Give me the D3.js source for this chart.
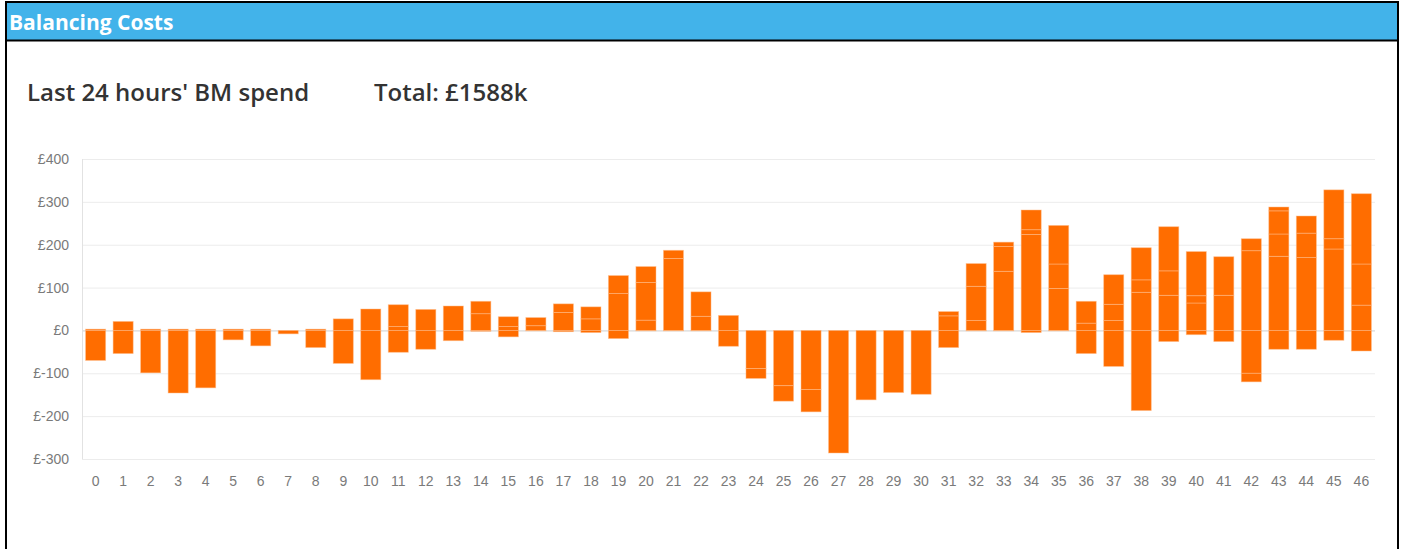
<!DOCTYPE html>
<html>
<head>
<meta charset="utf-8">
<script src="https://cdn.jsdelivr.net/npm/d3@7"></script>
<style>
  body { margin: 0; background: #fff; }
  svg { display: block; }
  .axis text { font-family: "Liberation Sans", Arial, sans-serif; font-size: 14px; fill: #7a7a7a; }
</style>
</head>
<body>
<div class="chart"></div>
<script>
// settlement periods, last 24 hours
const periods = d3.range(0, 47);

// stacked segments (£k); positive parts go up, negative parts go down
const posA = [3, 21, 3, 3, 3, 3, 3, 0, 3, 27, 50, 9, 49, 57, 39, 9, 11, 42, 27, 86, 24, 168, 33, 35,
  0, 0, 0, 0, 0, 0, 0, 34, 23, 138, 224, 98, 17, 23, 89, 82, 64, 82, 186, 173, 170, 190, 59];
const posB = [0, 0, 0, 0, 0, 0, 0, 0, 0, 0, 0, 51, 0, 0, 29, 23, 19, 20, 28, 42, 88, 19, 57, 0,
  0, 0, 0, 0, 0, 0, 0, 10, 80, 58, 11, 57, 51, 38, 29, 57, 17, 90, 28, 52, 57, 24, 96];
const posC = [0, 0, 0, 0, 0, 0, 0, 0, 0, 0, 0, 0, 0, 0, 0, 0, 0, 0, 0, 0, 37, 0, 0, 0,
  0, 0, 0, 0, 0, 0, 0, 0, 53, 10, 46, 90, 0, 69, 75, 103, 103, 0, 0, 54, 40, 114, 164];
const posD = [0, 0, 0, 0, 0, 0, 0, 0, 0, 0, 0, 0, 0, 0, 0, 0, 0, 0, 0, 0, 0, 0, 0, 0,
  0, 0, 0, 0, 0, 0, 0, 0, 0, 0, 0, 0, 0, 0, 0, 0, 0, 0, 0, 9, 0, 0, 0];
const negA = [-70, -54, -99, -146, -134, -22, -36, -8, -40, -77, -115, -51, -44, -24, -2, -15, -1, -3, -5, -19, -1, -1, -1, -37,
  -89, -129, -138, -286, -162, -145, -149, -40, -1, -1, -5, -1, -54, -84, -187, -26, -10, -26, -100, -44, -44, -23, -48];
const negB = [0, 0, 0, 0, 0, 0, 0, 0, 0, 0, 0, 0, 0, 0, 0, 0, 0, 0, 0, 0, 0, 0, 0, 0,
  -23, -36, -52, 0, 0, 0, 0, 0, 0, 0, 0, 0, 0, 0, 0, 0, 0, 0, -20, 0, 0, 0, 0];

const yTicks = [-300, -200, -100, 0, 100, 200, 300, 400];
const panelTitle = "Balancing Costs";
const subTitle = "Last 24 hours' BM spend";
const totalText = "Total: £1588k";

const W = 1402, H = 549;
const margin = { top: 159, right: 27, bottom: 90, left: 82 };
const width = W - margin.left - margin.right,
  height = 459 - margin.top;

const root = d3.select(".chart").append("svg")
  .attr("width", W)
  .attr("height", H);

// panel frame + header
root.append("rect").attr("x", 6).attr("y", 2).attr("width", 1392).attr("height", 560)
  .attr("fill", "#fff").attr("stroke", "#000").attr("stroke-width", 2);
root.append("rect").attr("x", 7).attr("y", 3).attr("width", 1390).attr("height", 37)
  .attr("fill", "#42b3ea");
root.append("line").attr("x1", 6).attr("x2", 1398).attr("y1", 40.5).attr("y2", 40.5)
  .attr("stroke", "#000").attr("stroke-width", 2);
root.append("text").attr("x", 9).attr("y", 30)
  .style("font-family", "'Open Sans', sans-serif").style("font-weight", "bold")
  .style("font-size", "21px").attr("fill", "#fff").text(panelTitle);

root.append("text").attr("x", 27).attr("y", 101)
  .style("font-family", "'Open Sans', sans-serif").style("font-weight", 600)
  .style("font-size", "24px").attr("fill", "#333").text(subTitle);
root.append("text").attr("x", 374).attr("y", 101)
  .style("font-family", "'Open Sans', sans-serif").style("font-weight", 600)
  .style("font-size", "24px").attr("fill", "#333").text(totalText);

const svg = root.append("g")
  .attr("transform", "translate(" + margin.left + "," + margin.top + ")");

// scales
const x = d3.scaleBand().domain(periods).range([0, width]).paddingInner(0.27).paddingOuter(0.13);
const y = d3.scaleLinear().domain([-300, 400]).range([height, 0]);

// grid
svg.append("g").selectAll("line").data(yTicks).join("line")
  .attr("x1", 0).attr("x2", width)
  .attr("y1", d => y(d) + 0.5).attr("y2", d => y(d) + 0.5)
  .attr("stroke", d => d === 0 ? "#cfcfcf" : "#ececec");
svg.append("line").attr("x1", 0.5).attr("x2", 0.5).attr("y1", 0).attr("y2", height)
  .attr("stroke", "#e2e2e2");

// axes
const yAxis = d3.axisLeft(y).tickValues(yTicks).tickSize(0).tickPadding(13)
  .tickFormat(d => "£" + d);
svg.append("g").attr("class", "axis y-axis").call(yAxis).call(g => g.select(".domain").remove());

const xAxis = d3.axisBottom(x).tickSize(0).tickPadding(17);
svg.append("g").attr("class", "axis x-axis")
  .attr("transform", `translate(0, ${height})`)
  .call(xAxis).call(g => g.select(".domain").remove());

// stacked bars
const rows = periods.map((p, i) => ({
  period: p, posA: posA[i], posB: posB[i], posC: posC[i], posD: posD[i], negA: negA[i], negB: negB[i]
}));
const series = d3.stack()
  .keys(["posA", "posB", "posC", "posD", "negA", "negB"])
  .offset(d3.stackOffsetDiverging)(rows);

svg.append("g").selectAll("g").data(series).join("g")
  .selectAll("rect").data(d => d.filter(s => s[1] !== s[0])).join("rect")
  .attr("class", "bar")
  .attr("x", d => x(d.data.period))
  .attr("width", x.bandwidth())
  .attr("y", d => y(Math.max(d[0], d[1])))
  .attr("height", d => Math.abs(y(d[0]) - y(d[1])))
  .style("fill", "#ff6d00")
  .style("stroke", "rgba(255,190,140,0.6)")
  .style("stroke-width", 0.8);
</script>
</body>
</html>
